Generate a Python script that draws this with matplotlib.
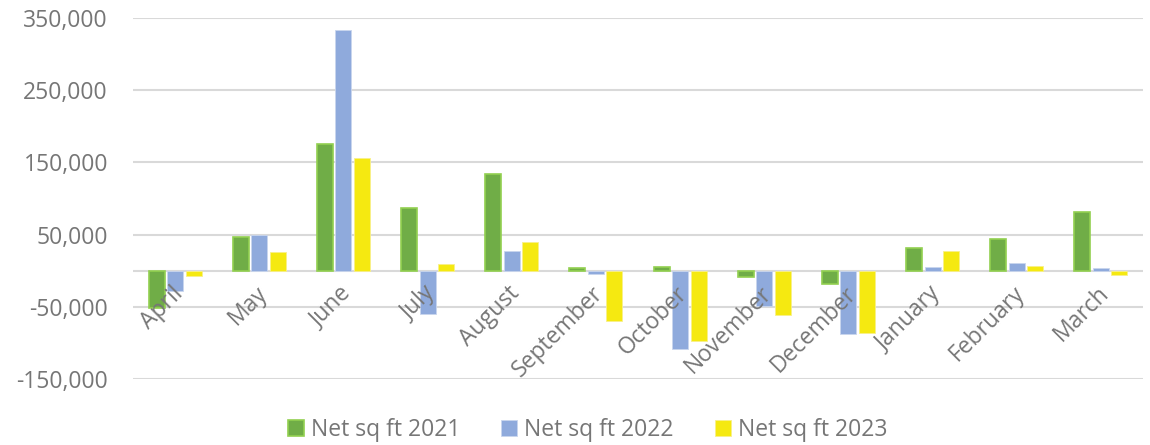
import matplotlib.pyplot as plt
import numpy as np

plt.rcParams['font.family'] = ['Open Sans', 'DejaVu Sans']

months = ['April', 'May', 'June', 'July', 'August', 'September', 'October',
          'November', 'December', 'January', 'February', 'March']
net_2021 = [-52000, 46600, 175700, 86700, 134600, 3700, 5000, -9000, -19000, 32000, 44500, 81000]
net_2022 = [-27700, 48800, 333800, -60000, 27700, -4600, -109000, -49000, -88000, 4700, 11000, 3300]
net_2023 = [-7800, 25800, 156300, 9200, 40100, -69600, -98000, -61000, -86000, 27500, 6500, -6000]
series_names = ['Net sq ft 2021', 'Net sq ft 2022', 'Net sq ft 2023']
yticks = [-150000, -50000, 50000, 150000, 250000, 350000]

txt = '#767676'
fs = 16.5

fig = plt.figure(figsize=(11.5, 4.45), dpi=100)
ax = fig.add_axes([133 / 1150, 1 - 379 / 445, 1010 / 1150, 361 / 445])

x = np.arange(len(months))
w = 0.19
step = 0.22
ax.bar(x - step, net_2021, w, color='#70AD47', edgecolor='#92D050', linewidth=1.2,
       label=series_names[0], zorder=3)
ax.bar(x, net_2022, w, color='#8FAADC', edgecolor='#C9D6EE', linewidth=0.6,
       label=series_names[1], zorder=3)
ax.bar(x + step, net_2023, w, color='#F5E911', edgecolor='#F8F08A', linewidth=0.6,
       label=series_names[2], zorder=3)

ax.set_xlim(-0.5, len(months) - 0.5)
ax.set_ylim(-150000, 350000)
ax.set_yticks(yticks)
ax.set_yticklabels([f'{v:,}' for v in yticks])
ax.yaxis.grid(True, color='#D9D9D9', linewidth=1.5, zorder=0)
ax.axhline(0, color='#D9D9D9', linewidth=1.5, zorder=1)
for s in ax.spines.values():
    s.set_visible(False)
ax.tick_params(axis='y', length=0, labelsize=fs, labelcolor=txt, pad=18)
ax.set_xticks([])

# category labels sit under the zero line
for i, m in enumerate(months):
    ax.text(i - 0.05, -15000, m, rotation=45, ha='right', va='top',
            rotation_mode='anchor', fontsize=fs, color=txt)

ax.legend(loc='upper center', bbox_to_anchor=(0.45, -0.05), ncol=3, frameon=False,
          fontsize=fs, labelcolor=txt, handlelength=0.7, handleheight=0.7,
          handletextpad=0.3, columnspacing=1.8)

fig.savefig('out.png', dpi=100)
